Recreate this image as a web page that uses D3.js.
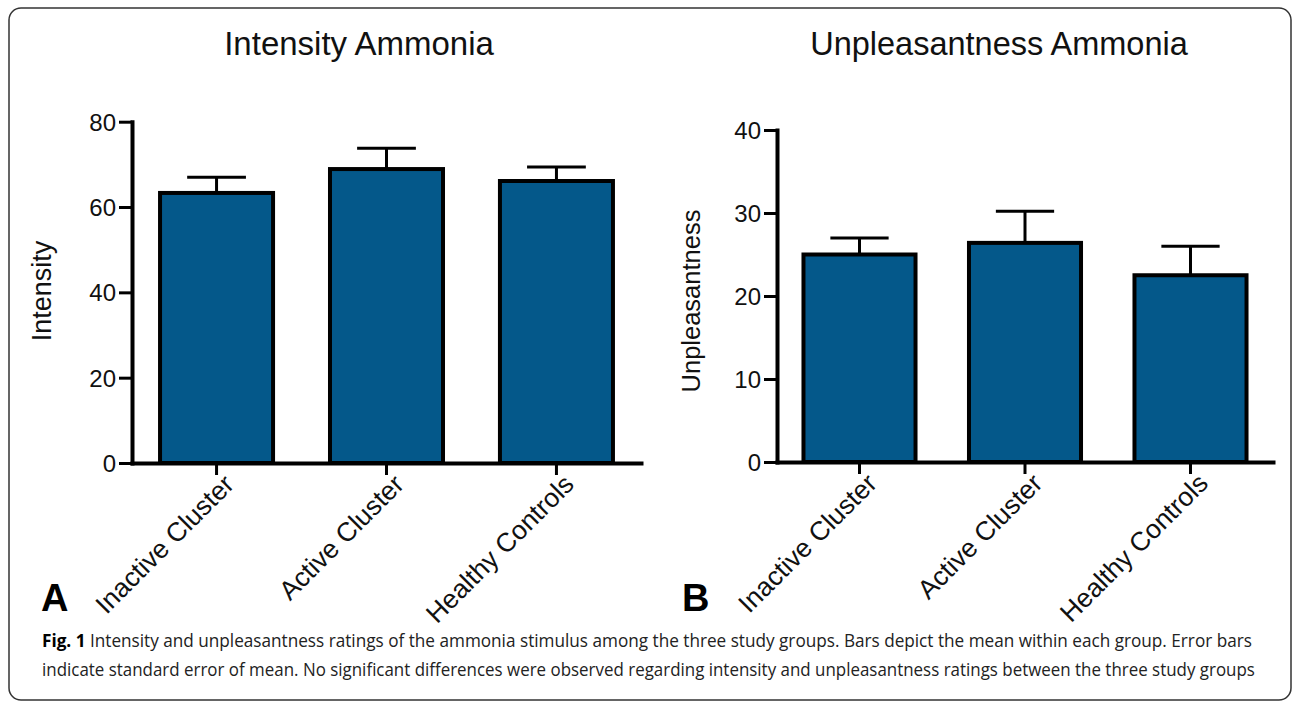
<!DOCTYPE html>
<html>
<head>
<meta charset="utf-8">
<script src="https://cdn.jsdelivr.net/npm/d3@7"></script>
<style>
  html, body { margin: 0; padding: 0; background: #fff; }
  svg { display: block; }
  .arial { font-family: "Liberation Sans", Arimo, Arial, Helvetica, sans-serif; }
  .cap { font-family: "Open Sans", "Noto Sans", sans-serif; }
</style>
</head>
<body>
<svg id="chart" width="1295" height="708"></svg>
<script>
const categories = ["Inactive Cluster", "Active Cluster", "Healthy Controls"];
const intensityMean = [63.3, 68.9, 66.1];
const intensitySEM = [3.7, 4.9, 3.3];
const unpleasantnessMean = [25.0, 26.4, 22.5];
const unpleasantnessSEM = [2.0, 3.8, 3.5];
const intensityTicks = [0, 20, 40, 60, 80];
const unpleasantnessTicks = [0, 10, 20, 30, 40];
const panelTitles = ["Intensity Ammonia", "Unpleasantness Ammonia"];
const yAxisTitles = ["Intensity", "Unpleasantness"];
const panelLetters = ["A", "B"];
const captionBold = "Fig. 1";
const captionLines = [
  " Intensity and unpleasantness ratings of the ammonia stimulus among the three study groups. Bars depict the mean within each group. Error bars",
  "indicate standard error of mean. No significant differences were observed regarding intensity and unpleasantness ratings between the three study groups"
];

const svg = d3.select("#chart");
const BAR_FILL = "#04588a";

// outer rounded frame
svg.append("rect")
  .attr("x", 9).attr("y", 8).attr("width", 1282).attr("height", 692)
  .attr("rx", 12).attr("ry", 12)
  .attr("fill", "none").attr("stroke", "#333").attr("stroke-width", 1.5);

const panels = [
  { means: intensityMean, sems: intensitySEM, ticks: intensityTicks, domain: [0, 80],
    xr: [132, 641], yr: [463, 121.7], pi: 0.335, po: 0.165,
    title: panelTitles[0], titleX: 359, titleSize: 33,
    ytitle: yAxisTitles[0], ytitleX: 51, ytitleY: 291, ytitleSize: 27,
    letter: panelLetters[0], letterX: 41 },
  { means: unpleasantnessMean, sems: unpleasantnessSEM, ticks: unpleasantnessTicks, domain: [0, 40],
    xr: [777, 1273], yr: [462, 130], pi: 0.323, po: 0.16,
    title: panelTitles[1], titleX: 999, titleSize: 32.5,
    ytitle: yAxisTitles[1], ytitleX: 700, ytitleY: 301, ytitleSize: 25.5,
    letter: panelLetters[1], letterX: 682 }
];

panels.forEach(p => {
  const g = svg.append("g").attr("class", "arial");
  const x = d3.scaleBand().domain(categories).range(p.xr).paddingInner(p.pi).paddingOuter(p.po);
  const y = d3.scaleLinear().domain(p.domain).range(p.yr);

  // title
  g.append("text")
    .attr("x", p.titleX).attr("y", 55)
    .attr("text-anchor", "middle")
    .style("font-size", p.titleSize + "px")
    .attr("fill", "#111")
    .text(p.title);

  // y axis title
  g.append("text")
    .attr("transform", `translate(${p.ytitleX},${p.ytitleY}) rotate(-90)`)
    .attr("text-anchor", "middle")
    .style("font-size", p.ytitleSize + "px")
    .attr("fill", "#111")
    .text(p.ytitle);

  const data = categories.map((c, i) => ({ c, v: p.means[i], e: p.sems[i] }));

  // error bars (upper only)
  const eb = g.append("g");
  eb.selectAll("line.stem").data(data).join("line")
    .attr("class", "stem")
    .attr("x1", d => x(d.c) + x.bandwidth() / 2)
    .attr("x2", d => x(d.c) + x.bandwidth() / 2)
    .attr("y1", d => y(d.v))
    .attr("y2", d => y(d.v + d.e))
    .attr("stroke", "#000").attr("stroke-width", 3);
  eb.selectAll("line.cap").data(data).join("line")
    .attr("class", "cap")
    .attr("x1", d => x(d.c) + x.bandwidth() * 0.24)
    .attr("x2", d => x(d.c) + x.bandwidth() * 0.76)
    .attr("y1", d => y(d.v + d.e))
    .attr("y2", d => y(d.v + d.e))
    .attr("stroke", "#000").attr("stroke-width", 3);

  // bars
  g.selectAll("rect.bar").data(data).join("rect")
    .attr("class", "bar")
    .attr("x", d => x(d.c))
    .attr("width", x.bandwidth())
    .attr("y", d => y(d.v))
    .attr("height", d => y(0) - y(d.v))
    .attr("fill", BAR_FILL)
    .attr("stroke", "#000").attr("stroke-width", 4);

  // x axis
  const xa = g.append("g")
    .attr("transform", `translate(0,${y(0)})`)
    .call(d3.axisBottom(x).tickSize(12).tickSizeOuter(0).tickFormat(""));
  xa.select(".domain").attr("stroke", "#000").attr("stroke-width", 4).attr("stroke-linecap", "square");
  xa.selectAll(".tick line").attr("stroke", "#000").attr("stroke-width", 3);

  // x labels rotated
  g.selectAll("text.xlab").data(categories).join("text")
    .attr("class", "xlab")
    .attr("transform", d => `translate(${x(d) + x.bandwidth() / 2 + 19},${y(0) + 23}) rotate(-45)`)
    .attr("text-anchor", "end")
    .style("font-size", "26.5px")
    .attr("fill", "#111")
    .text(d => d);

  // y axis
  const ya = g.append("g")
    .attr("transform", `translate(${p.xr[0]},0)`)
    .call(d3.axisLeft(y).tickValues(p.ticks).tickSize(13).tickSizeOuter(0).tickPadding(3));
  ya.attr("font-family", null).attr("font-size", null);
  ya.select(".domain").attr("stroke", "#000").attr("stroke-width", 4).attr("stroke-linecap", "square");
  ya.selectAll(".tick line").attr("stroke", "#000").attr("stroke-width", 3);
  ya.selectAll(".tick text")
    .style("font-size", "24px").attr("fill", "#111")
    .attr("dy", "0.35em");

  // panel letter
  g.append("text")
    .attr("x", p.letterX).attr("y", 611)
    .style("font-size", "38px").style("font-weight", "bold")
    .attr("fill", "#000")
    .text(p.letter);
});

// caption: natural text, horizontally scaled to the reference line width
function captionLine(yPos, targetWidth, parts) {
  const t = svg.append("text")
    .attr("class", "cap")
    .attr("x", 0).attr("y", 0)
    .style("font-size", "18px")
    .attr("fill", "#222");
  parts.forEach(pt => {
    const ts = t.append("tspan").text(pt.text);
    if (pt.bold) ts.style("font-weight", "bold").attr("fill", "#000");
  });
  const w = t.node().getComputedTextLength();
  const sx = targetWidth / w;
  t.attr("transform", `translate(42,${yPos}) scale(${sx},1)`);
}
captionLine(647, 1211, [{ text: captionBold, bold: true }, { text: captionLines[0] }]);
captionLine(676, 1213, [{ text: captionLines[1] }]);
</script>
</body>
</html>
